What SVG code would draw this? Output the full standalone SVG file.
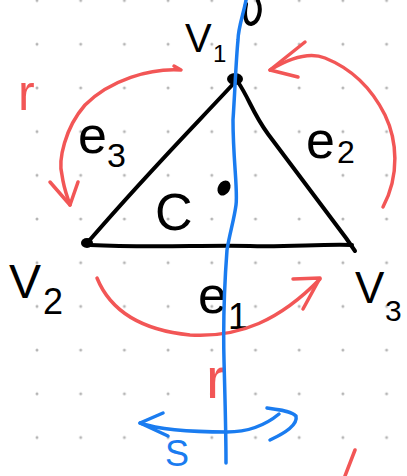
<svg xmlns="http://www.w3.org/2000/svg" width="407" height="476" viewBox="0 0 407 476">
<defs>
<style>
.ink{fill:none;stroke:#000;stroke-width:4;stroke-linecap:round;stroke-linejoin:round}
.red{fill:none;stroke:#f25656;stroke-width:3.5;stroke-linecap:round;stroke-linejoin:round}
.blue{fill:none;stroke:#1a7cf0;stroke-width:3.5;stroke-linecap:round;stroke-linejoin:round}
.lbl{font-family:"Liberation Sans",Arial,sans-serif;fill:#000}
.rt{font-family:"Liberation Sans",Arial,sans-serif;fill:#f25656}
.bt{font-family:"Liberation Sans",Arial,sans-serif;fill:#1a7cf0}
.dot{fill:#b5b5b5}
</style>
<pattern id="grid" x="37" y="0.5" width="43.7" height="43.7" patternUnits="userSpaceOnUse">
<circle class="dot" cx="0" cy="0" r="1.5"/>
<circle class="dot" cx="43.7" cy="0" r="1.5"/>
<circle class="dot" cx="0" cy="43.7" r="1.5"/>
<circle class="dot" cx="43.7" cy="43.7" r="1.5"/>
</pattern>
</defs>
<rect width="407" height="476" fill="#fff"/>
<rect width="407" height="476" fill="url(#grid)"/>

<g id="connectors">
<path class="ink" d="M235 82 C200 120 150 170 88 242"/>
<path class="ink" d="M238 82 C250 100 252 112 268 134 C295 170 325 210 346 238 L355 251"/>
<path class="ink" d="M90 245 C150 248 200 245 250 246 C290 247 320 244 352 245"/>
</g>

<g id="v1">
<ellipse cx="235" cy="79" rx="8" ry="6" fill="#000"/>
<text class="lbl" x="185" y="52" font-size="40">V</text>
<text class="lbl" x="213" y="62" font-size="24">1</text>
</g>
<g id="v2">
<ellipse cx="87" cy="243" rx="6" ry="5" fill="#000"/>
<text class="lbl" x="9" y="298" font-size="48">V</text>
<text class="lbl" x="43" y="314" font-size="36">2</text>
</g>
<g id="v3">
<text class="lbl" x="355" y="303" font-size="44">V</text>
<text class="lbl" x="385" y="321" font-size="30">3</text>
</g>
<g id="centroid">
<ellipse cx="224" cy="188" rx="6" ry="8" transform="rotate(30 224 188)" fill="#000"/>
<text class="lbl" x="155" y="230" font-size="52">C</text>
</g>

<g id="edge-labels">
<text class="lbl" x="78" y="153" font-size="52">e</text>
<text class="lbl" x="107" y="167" font-size="34">3</text>
<text class="lbl" x="306" y="158" font-size="52">e</text>
<text class="lbl" x="337" y="163" font-size="32">2</text>
<text class="lbl" x="198" y="313" font-size="52">e</text>
<text class="lbl" x="228" y="329" font-size="36">1</text>
</g>

<path class="ink" d="M258 1 C262 10 259 22 251 24 C245 24 244 14 246 4"/>

<g id="rotation-arrows">
<path class="red" d="M174 66 L181 70 C150 68 110 80 85 105 C65 128 58 160 62 175 C64 190 68 198 70 205"/>
<path class="red" d="M50 182 L70 205 L78 182"/>
<text class="rt" x="18" y="110" font-size="50">r</text>
<path class="red" d="M270 70 C290 58 310 52 325 58 C350 68 370 85 385 115 C397 140 400 175 383 207"/>
<path class="red" d="M305 42 L270 70 L298 77"/>
<path class="red" d="M97 278 C110 310 140 330 190 335 C240 338 280 320 320 279"/>
<path class="red" d="M293 279 L320 278 L303 309"/>
<text class="rt" x="206" y="398" font-size="58">r</text>
<path class="red" d="M355 450 L345 476"/>
</g>

<g id="axis">
<path class="blue" d="M246 0 C244 12 238 28 238 40 C236 60 235 90 233 120 C233 160 238 190 236 205 C234 220 230 232 227 250 C224 290 223 320 224 360 C225 400 226 430 226 463"/>
<path class="blue" d="M140 423 C160 430 190 432 227 432 C245 432 262 428 279 414"/>
<path class="blue" d="M163 413 L140 423 L168 436"/>
<path class="blue" d="M267 408 C277 410 290 410 296 416 C298 425 285 433 270 440"/>
<text class="bt" x="165" y="466" font-size="36">S</text>
</g>
</svg>
